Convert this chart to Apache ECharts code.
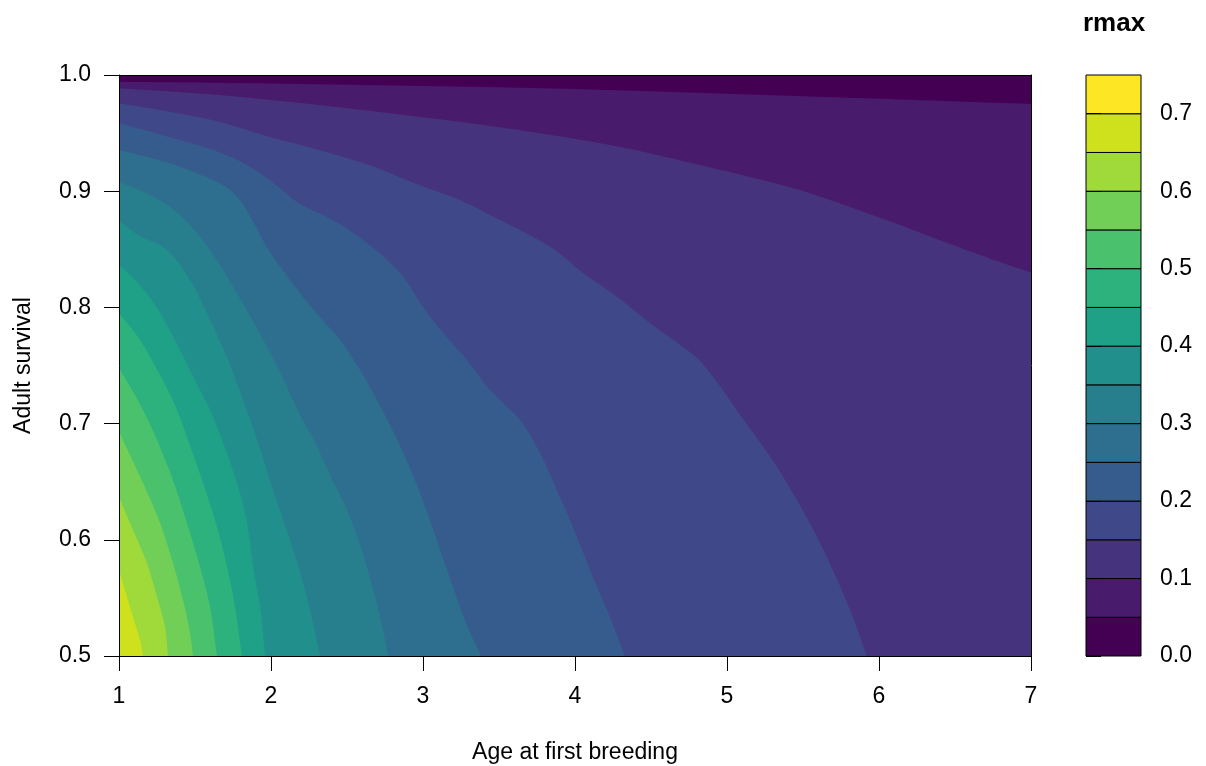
<!DOCTYPE html>
<html>
<head>
<meta charset="utf-8">
<script src="https://cdn.jsdelivr.net/npm/echarts@6/dist/echarts.min.js"></script>
<style>
html,body{margin:0;padding:0;background:#ffffff;}
#chart{width:1206px;height:766px;}
</style>
</head>
<body>
<div id="chart"></div>
<script>
// ---------- data ----------
const ageTicks = [1, 2, 3, 4, 5, 6, 7];
const survivalTicks = [0.5, 0.6, 0.7, 0.8, 0.9, 1.0];
const rmaxLevels = [0, 0.05, 0.10, 0.15, 0.20, 0.25, 0.30, 0.35, 0.40, 0.45, 0.50, 0.55, 0.60, 0.65, 0.70, 0.75];
const keyTicks = [0, 0.1, 0.2, 0.3, 0.4, 0.5, 0.6, 0.7];
const bandColors = ["#440154","#481B6D","#46337E","#3F4889","#365C8D","#2E6E8E","#277F8E","#21908C",
                    "#1FA187","#2DB27D","#4AC16D","#71CF57","#9FDA3A","#CFE11C","#FDE725"];

// contour lines [age at first breeding, adult survival]
const iso005 = [[1,0.9942],[2,0.9927],[3,0.9905],[4,0.9880],[5,0.9838],[6,0.9795],[7,0.9750]];
const iso010 = [[1,0.9886],[1.658,0.9828],[2.316,0.9742],[2.974,0.9641],[3.632,0.9527],[4.289,0.9383],
                [4.822,0.9225],[5.151,0.9122],[5.480,0.9010],[5.809,0.8864],[6.138,0.8709],[6.467,0.8545],
                [6.796,0.8390],[7,0.8300]];
const iso015 = [[1,0.9756],[1.329,0.9684],[1.658,0.9598],[1.987,0.9469],[2.316,0.9355],[2.645,0.9225],
                [2.974,0.9053],[3.243,0.8924],[3.507,0.8752],[3.836,0.8522],[4.053,0.8296],[4.276,0.8092],
                [4.493,0.7866],[4.711,0.7659],[4.822,0.7539],[4.954,0.7324],[5.086,0.7074],[5.329,0.6627],
                [5.579,0.6059],[5.783,0.5482],[5.921,0.5]];
const iso020 = [[1,0.9587],[1.329,0.9466],[1.658,0.9337],[1.875,0.9200],[2.059,0.9028],[2.191,0.8890],
                [2.408,0.8752],[2.632,0.8554],[2.849,0.8296],[3.000,0.8003],[3.132,0.7780],[3.289,0.7547],
                [3.441,0.7289],[3.638,0.7031],[3.770,0.6747],[3.901,0.6368],[4.013,0.6024],[4.118,0.5680],
                [4.230,0.5336],[4.329,0.5]];
const iso025 = [[1,0.9355],[1.329,0.9243],[1.658,0.9071],[1.796,0.8924],[1.895,0.8709],[1.993,0.8477],
                [2.191,0.8124],[2.322,0.7917],[2.454,0.7719],[2.586,0.7461],[2.697,0.7203],[2.783,0.6988],
                [2.862,0.6773],[2.947,0.6515],[3.046,0.6170],[3.158,0.5740],[3.276,0.5310],[3.382,0.5]];
const iso030 = [[1,0.9079],[1.204,0.8967],[1.401,0.8795],[1.599,0.8494],[1.763,0.8150],[1.914,0.7806],
                [2.059,0.7444],[2.191,0.7074],[2.289,0.6842],[2.388,0.6558],[2.500,0.6256],[2.586,0.5955],
                [2.664,0.5611],[2.730,0.5267],[2.770,0.5]];
const iso035 = [[1,0.8744],[1.138,0.8614],[1.316,0.8494],[1.467,0.8236],[1.599,0.7892],[1.717,0.7547],
                [1.816,0.7203],[1.908,0.6859],[2.013,0.6429],[2.125,0.5998],[2.211,0.5628],[2.276,0.5284],
                [2.322,0.5]];
const iso040 = [[1,0.8365],[1.105,0.8236],[1.237,0.8021],[1.368,0.7719],[1.500,0.7375],[1.599,0.7117],
                [1.678,0.6859],[1.776,0.6489],[1.842,0.6145],[1.882,0.5766],[1.928,0.5422],[1.961,0.5]];
const iso045 = [[1,0.7952],[1.138,0.7719],[1.270,0.7418],[1.368,0.7160],[1.454,0.6859],[1.553,0.6489],
                [1.645,0.6110],[1.711,0.5766],[1.763,0.5422],[1.809,0.5]];
const iso050 = [[1,0.7478],[1.105,0.7246],[1.184,0.7048],[1.250,0.6859],[1.355,0.6515],[1.447,0.6145],
                [1.533,0.5766],[1.599,0.5422],[1.645,0.5]];
const iso055 = [[1,0.6936],[1.026,0.6859],[1.158,0.6489],[1.270,0.6145],[1.355,0.5800],[1.421,0.5482],
                [1.467,0.5198],[1.487,0.5]];
const iso060 = [[1,0.6368],[1.092,0.6084],[1.184,0.5800],[1.250,0.5508],[1.303,0.5250],[1.322,0.5]];
const iso065 = [[1,0.5740],[1.039,0.5568],[1.092,0.5336],[1.138,0.5138],[1.158,0.5]];

const isolines = [iso005, iso010, iso015, iso020, iso025, iso030, iso035, iso040, iso045, iso050, iso055, iso060, iso065];

// ---------- chart ----------
const FONT = "'Liberation Sans', Arial, Helvetica, sans-serif";
const xMin = ageTicks[0], xMax = ageTicks[ageTicks.length - 1];
const yMin = survivalTicks[0], yMax = survivalTicks[survivalTicks.length - 1];

function f(v) { return v.toFixed(2); }

// smooth path (Catmull-Rom -> cubic Bezier) through the pixel points of a contour line
function smoothPath(px) {
  let d = 'M' + f(px[0][0]) + ',' + f(px[0][1]);
  for (let i = 0; i < px.length - 1; i++) {
    const p0 = px[Math.max(i - 1, 0)], p1 = px[i], p2 = px[i + 1], p3 = px[Math.min(i + 2, px.length - 1)];
    const c1x = p1[0] + (p2[0] - p0[0]) / 6, c1y = p1[1] + (p2[1] - p0[1]) / 6;
    const c2x = p2[0] - (p3[0] - p1[0]) / 6, c2y = p2[1] - (p3[1] - p1[1]) / 6;
    d += 'C' + f(c1x) + ',' + f(c1y) + ',' + f(c2x) + ',' + f(c2y) + ',' + f(p2[0]) + ',' + f(p2[1]);
  }
  return d;
}

function renderContour(params, api) {
  const k = api.value(2);
  if (k === 0) {
    const pts = [[xMin, yMin], [xMin, yMax], [xMax, yMax], [xMax, yMin]].map(p => api.coord(p));
    return { type: 'polygon', shape: { points: pts }, style: { fill: bandColors[0] } };
  }
  const line = isolines[k - 1];
  const px = line.map(p => api.coord(p));
  let d = smoothPath(px);
  const last = line[line.length - 1];
  if (last[1] > yMin) {
    const c = api.coord([xMax, yMin]);
    d += 'L' + f(c[0]) + ',' + f(c[1]);
  }
  const c0 = api.coord([xMin, yMin]);
  d += 'L' + f(c0[0]) + ',' + f(c0[1]) + 'Z';
  return { type: 'path', shape: { pathData: d }, style: { fill: bandColors[k] } };
}

function renderKey(params, api) {
  const i = api.value(3);
  const p0 = api.coord([0, api.value(1)]);
  const p1 = api.coord([1, api.value(2)]);
  return {
    type: 'rect',
    shape: { x: p0[0], y: p1[1], width: p1[0] - p0[0], height: p0[1] - p1[1] },
    style: { fill: bandColors[i], stroke: '#000', lineWidth: 1 }
  };
}

const contourData = [];
for (let k = 0; k <= isolines.length; k++) contourData.push([xMin, yMin, k]);
const keyData = bandColors.map((c, i) => [0, rmaxLevels[i], rmaxLevels[i + 1], i]);

const axisTextStyle = { color: '#000', fontSize: 23, fontFamily: FONT };
const lineBlack = { color: '#000', width: 1 };
const hiddenParts = {
  axisTick: { show: false }, axisLabel: { show: false }, splitLine: { show: false },
  minorTick: { show: false }, minorSplitLine: { show: false }, axisPointer: { show: false }
};

const option = {
  animation: false,
  backgroundColor: '#fff',
  tooltip: { show: false },
  title: {
    text: 'rmax', left: 1083, top: 11, padding: 0,
    textStyle: { fontSize: 26, fontWeight: 'bold', fontFamily: FONT, color: '#000' }
  },
  grid: [
    { left: 119, top: 75, width: 912, height: 581, containLabel: false, outerBoundsMode: 'none' },
    { left: 1086, top: 75, width: 55, height: 581, containLabel: false, outerBoundsMode: 'none' }
  ],
  xAxis: [
    {
      gridIndex: 0, type: 'value', min: xMin, max: xMax, interval: 1, position: 'bottom', z: 10,
      axisLine: { show: true, onZero: false, lineStyle: lineBlack },
      axisTick: { show: true, length: 15, lineStyle: lineBlack },
      axisLabel: Object.assign({ margin: 29, lineHeight: 23 }, axisTextStyle),
      splitLine: { show: false },
      name: 'Age at first breeding', nameLocation: 'middle', nameGap: 85,
      nameTextStyle: Object.assign({ lineHeight: 23 }, axisTextStyle)
    },
    Object.assign({
      gridIndex: 0, type: 'value', min: xMin, max: xMax, position: 'top', z: 10,
      axisLine: { show: true, onZero: false, lineStyle: lineBlack }
    }, hiddenParts),
    Object.assign({
      gridIndex: 1, type: 'value', min: 0, max: 1, show: false,
      axisLine: { show: false }
    }, hiddenParts)
  ],
  yAxis: [
    {
      gridIndex: 0, type: 'value', min: yMin, max: yMax, interval: 0.1, position: 'left', z: 10,
      axisLine: { show: true, onZero: false, lineStyle: lineBlack },
      axisTick: { show: true, length: 15, lineStyle: lineBlack },
      axisLabel: Object.assign({ margin: 28, formatter: v => v.toFixed(1) }, axisTextStyle),
      splitLine: { show: false },
      name: 'Adult survival', nameLocation: 'middle', nameGap: 84, nameRotate: 90,
      nameTextStyle: Object.assign({ lineHeight: 23 }, axisTextStyle)
    },
    Object.assign({
      gridIndex: 0, type: 'value', min: yMin, max: yMax, position: 'right', z: 10,
      axisLine: { show: true, onZero: false, lineStyle: lineBlack }
    }, hiddenParts),
    {
      gridIndex: 1, type: 'value', min: rmaxLevels[0], max: rmaxLevels[rmaxLevels.length - 1],
      position: 'right', z: 10,
      axisLine: { show: false },
      axisTick: { show: true, length: 15, lineStyle: lineBlack, customValues: keyTicks },
      axisLabel: Object.assign({ margin: 19, customValues: keyTicks, formatter: v => v.toFixed(1) }, axisTextStyle),
      splitLine: { show: false }
    }
  ],
  series: [
    {
      type: 'custom', xAxisIndex: 0, yAxisIndex: 0, z: 2,
      renderItem: renderContour, data: contourData,
      encode: { x: 0, y: 1 }, silent: true
    },
    {
      type: 'custom', xAxisIndex: 2, yAxisIndex: 2, z: 2,
      renderItem: renderKey, data: keyData,
      encode: { x: 0, y: [1, 2] }, silent: true
    }
  ]
};

const chart = echarts.init(document.getElementById('chart'), null, { renderer: 'canvas' });
chart.setOption(option);
</script>
</body>
</html>
